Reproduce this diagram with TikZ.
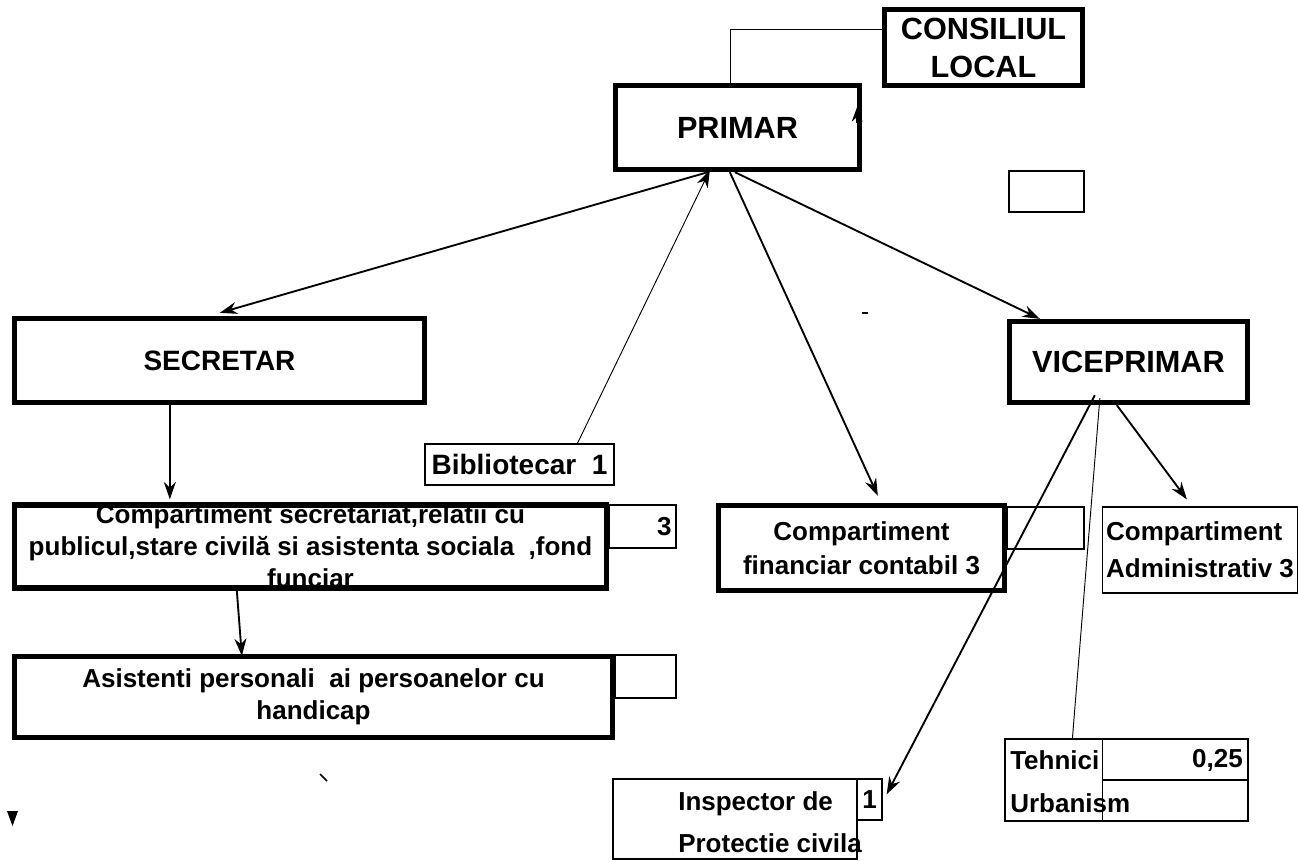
\documentclass[tikz,border=0pt]{standalone}
\usepackage{fontspec}
\setmainfont{Liberation Sans}
\usetikzlibrary{arrows.meta,calc}
\begin{document}
\begin{tikzpicture}[x=0.75pt,y=-0.75pt,
  thickbox/.style={draw, line width=4pt, inner sep=0pt, align=center},
  thinbox/.style={draw, line width=0.9pt, inner sep=0pt},
  head/.style={font=\bfseries\fontsize{23}{28.5}\selectfont},
  body/.style={font=\bfseries\fontsize{19.5}{23.5}\selectfont},
  arr/.style={line width=1.4pt, -{Stealth[length=13pt,width=9pt]}},
  thinline/.style={line width=0.7pt}]
\useasboundingbox (0,0) rectangle (1298,860);
\fill[white] (0,0) rectangle (1298,860);

% thin side boxes (drawn first)
\node[thinbox, minimum width=75*0.75pt, minimum height=41*0.75pt] (e1) at (1046.5,191.5) {};
\node[thinbox, body, minimum width=67*0.75pt, minimum height=43*0.75pt, text width=58*0.75pt, align=right] (cs3) at (642.5,526.5) {3};
\node[thinbox, minimum width=61*0.75pt, minimum height=43*0.75pt] (asi0) at (645.5,676.5) {};
\node[thinbox, minimum width=77*0.75pt, minimum height=42*0.75pt] (fin0) at (1045.5,528) {};

% main boxes
\node[thickbox, head, minimum width=198*0.75pt, minimum height=76*0.75pt] (cons) at (983.5,47.5) {CONSILIUL\\LOCAL};
\node[thickbox, head, minimum width=244*0.75pt, minimum height=84*0.75pt] (prim) at (737.5,127.5) {PRIMAR};
\node[thickbox, font=\bfseries\fontsize{21}{25}\selectfont, minimum width=410*0.75pt, minimum height=84*0.75pt] (sec) at (219.5,360.5) {SECRETAR};
\node[thickbox, head, minimum width=238*0.75pt, minimum height=81*0.75pt] (vice) at (1128.5,362) {VICEPRIMAR};
\node[thinbox, font=\bfseries\fontsize{21}{25}\selectfont, minimum width=189*0.75pt, minimum height=41*0.75pt] (bib) at (519.5,464.5) {Bibliotecar\ \ 1};
\node[thickbox, body, font=\bfseries\fontsize{19.5}{24}\selectfont, minimum width=592*0.75pt, minimum height=82*0.75pt] (cs) at (310.5,546.5) {Compartiment secretariat,relatii cu\\publicul,stare civilă si asistenta sociala\ \ ,fond\\funciar};
\node[thickbox, body, font=\bfseries\fontsize{19.5}{24}\selectfont, minimum width=598*0.75pt, minimum height=81*0.75pt] (asi) at (313.5,697) {Asistenti personali\ \ ai persoanelor cu\\handicap};
\node[thickbox, body, font=\bfseries\fontsize{19.5}{25.5}\selectfont, minimum width=286*0.75pt, minimum height=85*0.75pt] (fin) at (861.5,548) {Compartiment\\financiar contabil 3};
\node[thinbox, font=\bfseries\fontsize{19.5}{27.75}\selectfont, minimum width=195*0.75pt, minimum height=86*0.75pt, align=left] (adm) at (1200,550) {Compartiment\\Administrativ 3};

% inspector
\node[thinbox, minimum width=244*0.75pt, minimum height=80*0.75pt] (insp) at (735,819) {};
\node[thinbox, body, minimum width=25*0.75pt, minimum height=41*0.75pt] (insp1) at (869.5,799.5) {1};
\node[anchor=west, inner sep=0pt, align=left, font=\bfseries\fontsize{19.5}{31.5}\selectfont] (insptxt) at (678,822) {Inspector de\\Protectie civila};

% tehnici table
\node[thinbox, minimum width=243*0.75pt, minimum height=82*0.75pt] (teh) at (1126.5,780) {};
\draw[line width=0.9pt] ($(teh.north west)+(98,0)$) -- ($(teh.south west)+(98,0)$);
\draw[line width=0.9pt] ($(teh.west)+(98,0)$) -- (teh.east);
\node[anchor=west, inner sep=0pt, body] (tt1) at (1010,760) {Tehnici};
\node[anchor=east, inner sep=0pt, body] (tt2) at (1243,760) {0,25};
\node[anchor=west, inner sep=0pt, body] (tt3) at (1010,803) {Urbanism};

% connectors
\draw[thinline] ($(prim.north west)+(118,0)$) |- ($(cons.north west)+(0,23)$);
\draw[line width=1.5pt, -{Stealth[length=11pt,width=8pt]}] ($(prim.north east)+(-5,40)$) -- ($(prim.north east)+(-5,24)$);
\draw[arr] ($(prim.south west)+(95,0)$) -- ($(sec.north west)+(208,-3)$);
\draw[thinline, -{Stealth[length=13pt,width=9pt]}] ($(bib.north west)+(153,0)$) -- ($(prim.south west)+(97,-2)$);
\draw[arr] ($(prim.south west)+(117,0)$) -- ($(fin.north west)+(162,-7)$);
\draw[arr] ($(prim.south west)+(122,0)$) -- ($(vice.north west)+(33,0)$);
\draw[arr] ($(vice.south west)+(110,0)$) -- ($(adm.north west)+(85,-7)$);
\draw[arr] ($(vice.south west)+(88,-10)$) -- ($(insp1.north east)+(4,16)$);
\draw[thinline] ($(vice.south west)+(93,-7)$) -- ($(teh.north west)+(68,0)$);
\draw[arr] ($(sec.south west)+(158,0)$) -- ($(cs.north west)+(158,-3)$);
\draw[arr] ($(cs.south west)+(225,0)$) -- ($(asi.north west)+(230,2)$);

% stray marks
\draw[line width=1.5pt] (862,313) -- (868,313);
\draw[line width=1.2pt] (320,774) -- (327,781);
\fill (7,811) -- (18,811) -- (12.5,826) -- cycle;
\end{tikzpicture}
\end{document}
